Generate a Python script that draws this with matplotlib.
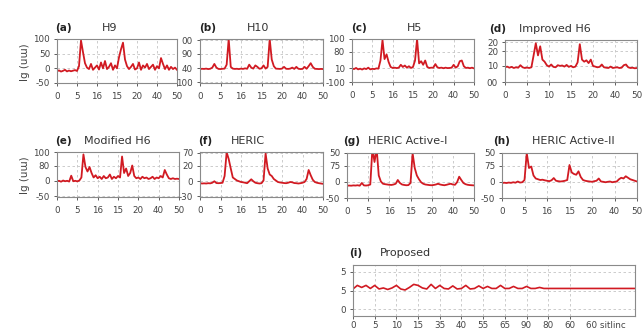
import numpy as np
import matplotlib
matplotlib.use("Agg")
import matplotlib.pyplot as plt

# ---- data (normalised y: 0 = bottom of each panel, 3 = top) ----
h9 = [0.80, 0.86, 0.78, 0.83, 0.90, 0.79, 0.85, 0.80, 0.84, 0.88, 0.82,
      1.15, 2.90, 2.10, 1.35, 1.05, 0.95,
      1.30, 0.90, 1.05, 1.20, 0.92, 1.40, 1.00, 1.50, 0.95, 1.10, 1.35, 0.90, 1.20, 1.00,
      1.75, 2.30, 2.75, 1.60, 1.15, 0.95,
      1.10, 1.30, 0.92, 1.00, 1.40, 0.90, 1.20, 1.05, 1.30, 0.95, 1.10, 1.25,
      0.90, 1.15, 1.00, 1.70, 1.30, 0.95, 1.20, 0.90, 1.10, 0.95, 1.05, 0.90]
h10 = [0.95, 0.97, 0.96, 0.98, 0.95, 0.97, 1.05, 1.30, 1.05, 0.96, 0.95, 0.97, 0.98,
       1.25, 3.00, 1.10, 0.98, 0.96, 0.97, 0.95, 0.98, 0.96, 1.00, 0.97, 1.25, 1.05,
       0.98, 1.20, 1.10, 0.97, 1.00, 1.20, 0.98, 1.10, 3.00, 1.60, 1.15, 0.98, 0.97,
       0.96, 0.98, 1.10, 0.97, 0.96, 0.98, 1.05, 0.96, 1.10, 0.97, 0.95, 0.96, 1.10,
       0.97, 1.15, 1.35, 1.10, 0.97, 0.96, 0.95, 0.96, 0.95]
h5 = [0.95, 0.90, 0.98, 0.88, 0.93, 0.87, 0.95, 0.90, 1.00, 0.88, 0.92, 0.90, 0.95,
      0.93, 1.50, 2.93, 1.60, 1.93, 1.40, 1.05, 0.98, 1.00, 0.97, 1.00, 1.20, 1.05,
      1.15, 1.00, 1.10, 0.98, 1.05, 1.50, 3.00, 1.30, 1.45, 1.20, 1.50, 1.05, 0.98,
      1.00, 1.00, 1.25, 1.02, 0.98, 1.00, 0.96, 1.00, 0.97, 0.98, 1.00, 1.20, 1.00,
      1.10, 1.45, 1.50, 1.10, 0.98, 1.00, 0.96, 1.00, 0.95]
improved_h6 = [1.05, 1.10, 1.02, 1.08, 1.00, 1.05, 1.02, 1.20, 1.05, 1.00, 1.03, 1.00, 1.05,
               1.90, 2.77, 1.90, 2.55, 1.60, 1.45, 1.20, 1.10,
               1.25, 1.08, 1.05, 1.20, 1.15, 1.18, 1.10, 1.22, 1.08, 1.15, 1.05, 1.10, 1.40,
               2.70, 1.60, 1.45, 1.55, 1.35, 1.60, 1.15,
               1.10, 1.05, 1.08, 1.25, 1.05, 1.02, 1.00, 1.10, 1.00, 1.03, 1.05, 1.00,
               1.02, 1.20, 1.25, 1.05, 1.00, 1.02, 0.98, 1.00]
modified_h6 = [1.05, 1.08, 1.02, 1.10, 1.05, 1.08, 1.03, 1.42, 1.05, 1.08, 1.04, 1.10,
               1.30, 2.84, 2.00, 1.70, 2.00, 1.60, 1.30, 1.45, 1.25,
               1.35, 1.20, 1.40, 1.25, 1.30, 1.50, 1.20, 1.35, 1.25, 1.40,
               1.30, 2.70, 1.60, 1.90, 1.40, 1.60, 2.10, 1.40,
               1.25, 1.30, 1.20, 1.35, 1.25, 1.30, 1.20, 1.25, 1.35, 1.20, 1.30,
               1.25, 1.40, 1.30, 1.80, 1.50, 1.25, 1.20, 1.25, 1.20, 1.22, 1.20]
heric = [0.92, 0.90, 0.91, 0.90, 0.92, 0.91, 0.95, 1.05, 0.93, 0.92, 0.93, 0.95,
         1.40, 2.98, 2.53, 1.90, 1.30, 1.20, 1.10, 1.05, 1.00,
         0.98, 0.95, 0.92, 1.05, 1.18, 1.05, 0.95, 0.92, 0.90, 0.92, 1.10,
         2.90, 1.90, 1.50, 1.40, 1.20, 1.10, 1.00,
         0.97, 0.95, 0.93, 0.92, 0.95, 1.00, 0.98, 0.93, 0.92, 0.90, 0.92,
         0.95, 1.00, 1.20, 1.80, 1.45, 1.15, 1.00, 0.95, 0.92, 0.90, 0.88]
heric_a1 = [0.82, 0.83, 0.82, 0.84, 0.83, 0.85, 0.82, 1.00, 0.84, 0.83, 0.85, 0.90,
            3.30, 2.40, 3.30, 1.50, 1.10, 0.95,
            0.92, 0.90, 0.88, 0.87, 0.90, 0.95, 1.20, 1.00, 0.90, 0.87, 0.85, 0.86, 1.00,
            2.98, 2.00, 1.50, 1.25, 1.05, 0.95,
            0.90, 0.88, 0.86, 0.85, 0.87, 0.90, 0.95, 0.90, 0.87, 0.85, 0.88, 0.92,
            0.95, 0.90, 0.88, 1.05, 1.42, 1.20, 1.00, 0.92, 0.88, 0.86, 0.85, 0.84]
heric_a2 = [1.00, 1.02, 1.00, 1.03, 1.01, 1.05, 1.02, 1.10, 1.03, 1.05, 1.20,
            3.00, 2.00, 2.10, 1.50, 1.30, 1.25, 1.20,
            1.22, 1.18, 1.15, 1.12, 1.18, 1.33, 1.15, 1.12, 1.10, 1.12, 1.15, 1.20,
            2.20, 1.70, 1.60, 1.55, 1.78, 1.40, 1.20,
            1.15, 1.12, 1.10, 1.08, 1.12, 1.15, 1.30, 1.10, 1.08, 1.05, 1.08, 1.10,
            1.05, 1.08, 1.10, 1.25, 1.35, 1.30, 1.45, 1.35, 1.25, 1.20, 1.15, 1.10]
proposed = [0.53, 0.60, 0.56, 0.60, 0.54, 0.60, 0.53, 0.55, 0.52, 0.55, 0.60,
            0.53, 0.51, 0.56, 0.62, 0.60, 0.55, 0.53, 0.62, 0.54, 0.60,
            0.54, 0.53, 0.59, 0.53, 0.54, 0.60, 0.53, 0.54, 0.59, 0.54,
            0.58, 0.54, 0.54, 0.60, 0.54, 0.54, 0.58, 0.54, 0.54, 0.58,
            0.54, 0.54, 0.56, 0.54, 0.54, 0.54, 0.54, 0.54, 0.54, 0.54,
            0.54, 0.54, 0.54, 0.54, 0.54, 0.54, 0.54, 0.54, 0.54, 0.54,
            0.54, 0.54, 0.54, 0.54, 0.54]

xlab_std = ["0", "5", "16", "15", "20", "40", "50"]
xlab_d = ["0", "3", "10", "15", "20", "40", "50"]
xlab_i = ["0", "5", "10", "15", "35", "40", "55", "65", "90", "80", "60", "60 sitlinc"]

W, H = 643, 332
RED = "#d11a22"

# letter, name, data, ylabels, ytick positions, xlabels, rect (l, t, r, b) px,
# title y, letter x, name x
panels = [
    ("(a)", "H9", h9, ["-50", "0", "50", "100"], [0, 1, 2, 3], xlab_std, (57, 39, 177, 83), 28, 55, 110),
    ("(b)", "H10", h10, ["100", "40", "90", "00"], [0.05, 1, 2, 2.9], xlab_std, (200, 39, 323, 83), 28, 199, 258),
    ("(c)", "H5", h5, ["-100", "10", "80", "100"], [0, 0.95, 2.1, 3], xlab_std, (352, 39, 474, 82), 28, 351, 415),
    ("(d)", "Improved H6", improved_h6, ["00", "10", "20", "20"], [0, 1.15, 2.2, 2.85], xlab_d, (505, 40, 637, 82), 29, 489, 555),
    ("(e)", "Modified H6", modified_h6, ["-50", "0", "80", "100"], [0.05, 1.1, 2.1, 3], xlab_std, (57, 152, 179, 197), 141, 55, 117),
    ("(f)", "HERIC", heric, ["-30", "0", "20", "70"], [0.05, 1.05, 2.1, 2.95], xlab_std, (200, 152, 323, 197), 141, 198, 248),
    ("(g)", "HERIC Active-I", heric_a1, ["-50", "0", "75", "50"], [0, 1.1, 2.15, 3], xlab_std, (347, 153, 474, 198), 141, 343, 408),
    ("(h)", "HERIC Active-II", heric_a2, ["-50", "0", "75", "50"], [0, 1.1, 2.15, 3], xlab_std, (502, 153, 637, 198), 141, 493, 573),
]

fig = plt.figure(figsize=(W / 100, H / 100), dpi=100)
fig.patch.set_facecolor("white")


def px_rect(l, t, r, b):
    return [l / W, 1 - b / H, (r - l) / W, (b - t) / H]


def style(ax, xpad=4.5):
    for s in ax.spines.values():
        s.set_color("#8a8a8a")
        s.set_linewidth(0.8)
    ax.tick_params(labelsize=6.3, colors="#444444", length=2, width=0.6, pad=3)
    ax.tick_params(axis="x", pad=xpad)
    ax.grid(True, linestyle=(0, (3, 3)), color="#c4c4c4", linewidth=0.6)
    ax.set_axisbelow(True)


for letter, name, ys, ylabs, ypos, xlabs, rect, ty, lx, tx in panels:
    ax = fig.add_axes(px_rect(*rect))
    x = np.linspace(0, 60, len(ys))
    ax.plot(x, ys, color=RED, linewidth=1.3)
    ax.set_xlim(0, 60)
    ax.set_ylim(0, 3)
    ax.set_xticks(np.linspace(0, 60, len(xlabs)))
    ax.set_xticklabels(xlabs)
    ax.set_yticks(ypos)
    ax.set_yticklabels(ylabs)
    style(ax)
    fig.text(lx / W, 1 - ty / H, letter, fontsize=7.5, fontweight="bold",
             color="#222222", ha="left", va="center")
    fig.text(tx / W, 1 - ty / H, name, fontsize=8, color="#333333", ha="center", va="center")

# panel (i)
rect_i = (353, 265, 635, 316)
ax = fig.add_axes(px_rect(*rect_i))
xi = np.linspace(0, 13, len(proposed))
ax.plot(xi, proposed, color=RED, linewidth=1.2)
ax.set_xlim(0, 13)
ax.set_ylim(0, 1)
ax.set_xticks(np.arange(len(xlab_i) - 1))
ax.set_xticklabels(xlab_i[:-1])
ax.set_yticks([0.13, 0.5, 0.87])
ax.set_yticklabels(["0", "5", "5"])
style(ax, xpad=1.5)
ax.annotate(xlab_i[-1], xy=(len(xlab_i) - 1 - 0.25, 0), xycoords=("data", "axes fraction"),
            xytext=(0, -6.5), textcoords="offset points", fontsize=6.3, color="#444444",
            ha="left", va="center", annotation_clip=False)
fig.text(349 / W, 1 - 253 / H, "(i)", fontsize=7.5, fontweight="bold", color="#222222",
         ha="left", va="center")
fig.text(405 / W, 1 - 253 / H, "Proposed", fontsize=8, color="#333333", ha="center", va="center")

# y labels
for yc in (62, 175):
    fig.text(25 / W, 1 - yc / H, "Ig (uɯ)", rotation=90, fontsize=7.5, color="#444444",
             ha="center", va="center")

fig.savefig("out.png", dpi=100)
